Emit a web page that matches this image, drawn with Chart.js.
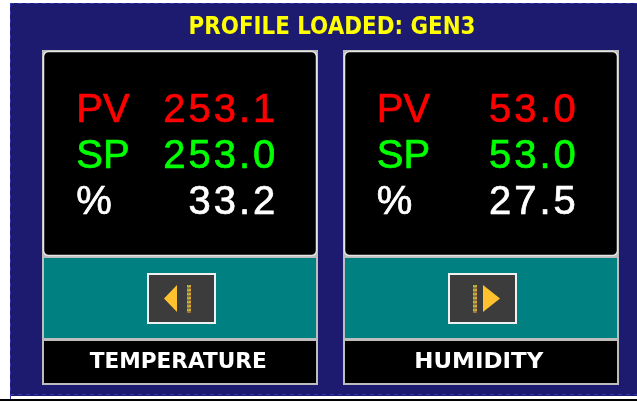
<!DOCTYPE html>
<html>
<head>
<meta charset="utf-8">
<script src="https://cdn.jsdelivr.net/npm/chart.js@4/dist/chart.umd.min.js"></script>
<style>
html, body { margin: 0; padding: 0; background: #fff; overflow: hidden; }
canvas { display: block; }
</style>
</head>
<body>
<canvas id="myChart" width="637" height="402"></canvas>
<script>
var title = 'PROFILE LOADED: GEN3';
var channels = ['TEMPERATURE', 'HUMIDITY'];
var pvValues = [253.1, 53.0];
var spValues = [253.0, 53.0];
var outValues = [33.2, 27.5];
var rowLabels = ['PV', 'SP', '%'];

var rowColors = ['#ff0000', '#00ff00', '#ffffff'];

function fitText(ctx, txt, cx, base, inkWidth, font, color) {
    ctx.save();
    ctx.font = font;
    ctx.textAlign = 'center';
    ctx.textBaseline = 'alphabetic';
    var m = ctx.measureText(txt);
    var w = m.actualBoundingBoxLeft + m.actualBoundingBoxRight;
    ctx.translate(cx, base);
    ctx.scale(inkWidth / w, 1);
    ctx.fillStyle = color;
    ctx.fillText(txt, 0, 0);
    ctx.restore();
}

function dashedLine(ctx, x, y, len, vertical) {
    ctx.fillStyle = '#3434b8';
    for (var i = 0; i < len; i += 8) {
        if (vertical) ctx.fillRect(x, y + i, 1, 4);
        else ctx.fillRect(x + i, y, 4, 1);
    }
}

function bigText(ctx, txt, x, base, color, align, spacing) {
    ctx.font = '40px "Liberation Sans", Arial, sans-serif';
    ctx.letterSpacing = spacing;
    ctx.textAlign = align;
    ctx.fillStyle = color;
    ctx.strokeStyle = color;
    ctx.lineWidth = 0.7;
    ctx.fillText(txt, x, base);
    ctx.strokeText(txt, x, base);
    ctx.letterSpacing = '0px';
}

function drawButton(ctx, bx, by, pointLeft) {
    ctx.fillStyle = '#3c3c3c';
    ctx.fillRect(bx, by, 69, 51);
    ctx.strokeStyle = '#f0f0f0';
    ctx.lineWidth = 2;
    ctx.strokeRect(bx + 1, by + 1, 67, 49);
    var top = by + 12, bot = by + 39, mid = by + 25.5;
    var triL, triR, barX;
    if (pointLeft) { triL = bx + 17; triR = bx + 30; barX = bx + 40; }
    else { triL = bx + 35; triR = bx + 52; barX = bx + 25; }
    ctx.fillStyle = '#ffc22e';
    ctx.beginPath();
    if (pointLeft) {
        ctx.moveTo(triL, mid); ctx.lineTo(triR, top); ctx.lineTo(triR, bot);
    } else {
        ctx.moveTo(triL, top); ctx.lineTo(triR, mid); ctx.lineTo(triL, bot);
    }
    ctx.closePath();
    ctx.fill();
    // barra punteada
    for (var y = top; y < bot; y += 2) {
        ctx.fillStyle = ((y - top) / 2) % 2 === 0 ? '#d8a838' : '#9c6a3a';
        ctx.fillRect(barX, y, 4, 2);
        ctx.fillStyle = '#7a9a3a';
        ctx.fillRect(barX + 1, y, 1, 1);
    }
}

var panelPlugin = {
    id: 'panel',
    beforeDatasetsDraw: function(chart) {
        var ctx = chart.ctx;
        var xs = chart.scales.x;

        ctx.save();
        // fondo azul
        ctx.fillStyle = '#1c1b70';
        ctx.fillRect(10, 3, 627, 393);
        dashedLine(ctx, 10, 3, 627, false);
        dashedLine(ctx, 10, 3, 393, true);
        dashedLine(ctx, 10, 394, 627, false);
        ctx.fillStyle = '#000';
        ctx.fillRect(0, 399, 637, 2);

        fitText(ctx, title, 332, 34, 284, 'bold 25px "DejaVu Sans"', '#ffff00');

        for (var i = 0; i < channels.length; i++) {
            var cx = xs.getPixelForValue(i);
            var x0 = Math.round(cx - 138);

            // marco de la tarjeta
            ctx.fillStyle = '#bdbdbd';
            ctx.fillRect(x0, 50, 276, 335);

            // display negro
            ctx.fillStyle = '#000';
            ctx.beginPath();
            ctx.roundRect(x0 + 1.5, 51.5, 273, 204, 5);
            ctx.fill();
            ctx.strokeStyle = '#e6e6e6';
            ctx.lineWidth = 1.5;
            ctx.stroke();

            // zona verde azulada
            ctx.fillStyle = '#008080';
            ctx.fillRect(x0 + 2, 258, 272, 80);

            // caja de etiqueta
            ctx.fillStyle = '#000';
            ctx.fillRect(x0 + 2, 341, 272, 42);

            var vals = [pvValues[i], spValues[i], outValues[i]];
            for (var r = 0; r < rowLabels.length; r++) {
                var base = 122 + r * 46;
                bigText(ctx, rowLabels[r], cx - 104, base, rowColors[r], 'left', '0px');
                bigText(ctx, vals[r].toFixed(1), cx + 98, base, rowColors[r], 'right', '3px');
            }

            drawButton(ctx, Math.round(cx - 33), 273, i === 0);

            var lw = channels[i].length * 16;
            fitText(ctx, channels[i], cx - 2, 368, lw, 'bold 22px "DejaVu Sans"', '#ffffff');
        }
        ctx.restore();
    }
};

var ctx = document.getElementById('myChart');
var myChart = new Chart(ctx, {
    type: 'bar',
    data: {
        labels: channels,
        datasets: [{
            label: 'PV',
            data: pvValues,
            backgroundColor: 'rgba(0,0,0,0)',
            borderWidth: 0
        }]
    },
    plugins: [panelPlugin],
    options: {
        responsive: false,
        animation: false,
        events: [],
        layout: { padding: { left: 30, right: 6, top: 0, bottom: 0 } },
        scales: {
            x: { display: false },
            y: { display: false, min: 0 }
        },
        plugins: {
            legend: { display: false },
            tooltip: { enabled: false }
        }
    }
});
</script>
</body>
</html>
